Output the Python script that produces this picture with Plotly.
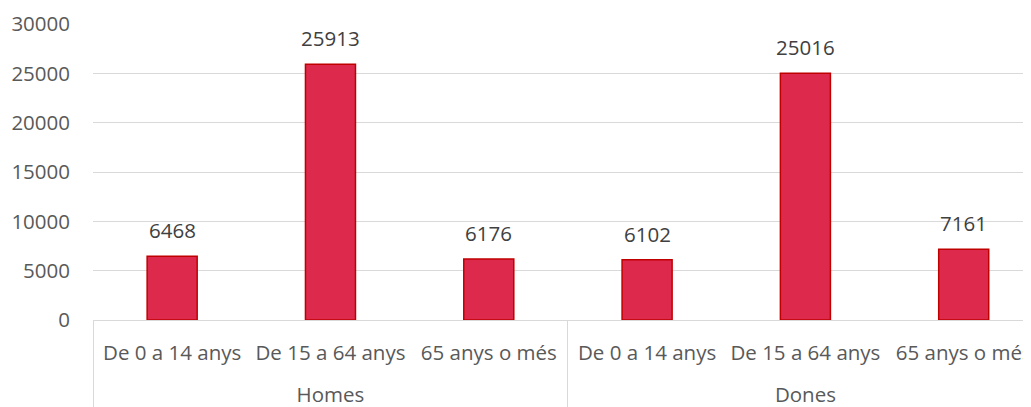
import plotly.graph_objects as go

groups = ["Homes", "Homes", "Homes", "Dones", "Dones", "Dones"]
ages = ["De 0 a 14 anys", "De 15 a 64 anys", "65 anys o més",
        "De 0 a 14 anys", "De 15 a 64 anys", "65 anys o més"]
values = [6468, 25913, 6176, 6102, 25016, 7161]
y_ticks = [0, 5000, 10000, 15000, 20000, 25000, 30000]

font_family = "Open Sans, Liberation Sans, sans-serif"
fs = 20.5

# tick labels get an empty second line so the group row sits lower (Excel style)
age_labels = [a + "<br> " for a in ages]

fig = go.Figure()
fig.add_trace(go.Bar(
    x=[groups, age_labels],
    y=values,
    width=0.316,
    marker=dict(color="#DC294C", line=dict(color="#C00000", width=1.5)),
    cliponaxis=False,
))

for i, v in enumerate(values):
    fig.add_annotation(
        x=i, y=v, xref="x", yref="y",
        text=str(v), showarrow=False,
        yanchor="middle", yshift=26,
        font=dict(size=fs, color="#404040", family=font_family),
    )

# the page body has an 8px margin; size the figure so it fits the window exactly
fig.update_layout(
    width=1023, height=399,
    margin=dict(l=85, r=0, t=16, b=87),
    paper_bgcolor="white", plot_bgcolor="white",
    showlegend=False,
    font=dict(family=font_family, size=fs, color="#595959"),
)
fig.update_yaxes(
    range=[0, 30000], tickvals=y_ticks, ticktext=[str(t) for t in y_ticks],
    showgrid=True, gridcolor="#D9D9D9", gridwidth=1,
    zeroline=False, showline=False, ticks="", ticklabelstandoff=22,
    tickfont=dict(size=fs, color="#595959"), automargin=False,
)
fig.update_xaxes(
    range=[-0.5, 5.425],
    showline=True, linecolor="#D9D9D9", linewidth=1,
    showdividers=True, dividercolor="#D9D9D9", dividerwidth=1,
    tickfont=dict(size=fs, color="#595959"),
    showgrid=False, automargin=False, ticklabelstandoff=14,
)

fig.write_html("out.html")
